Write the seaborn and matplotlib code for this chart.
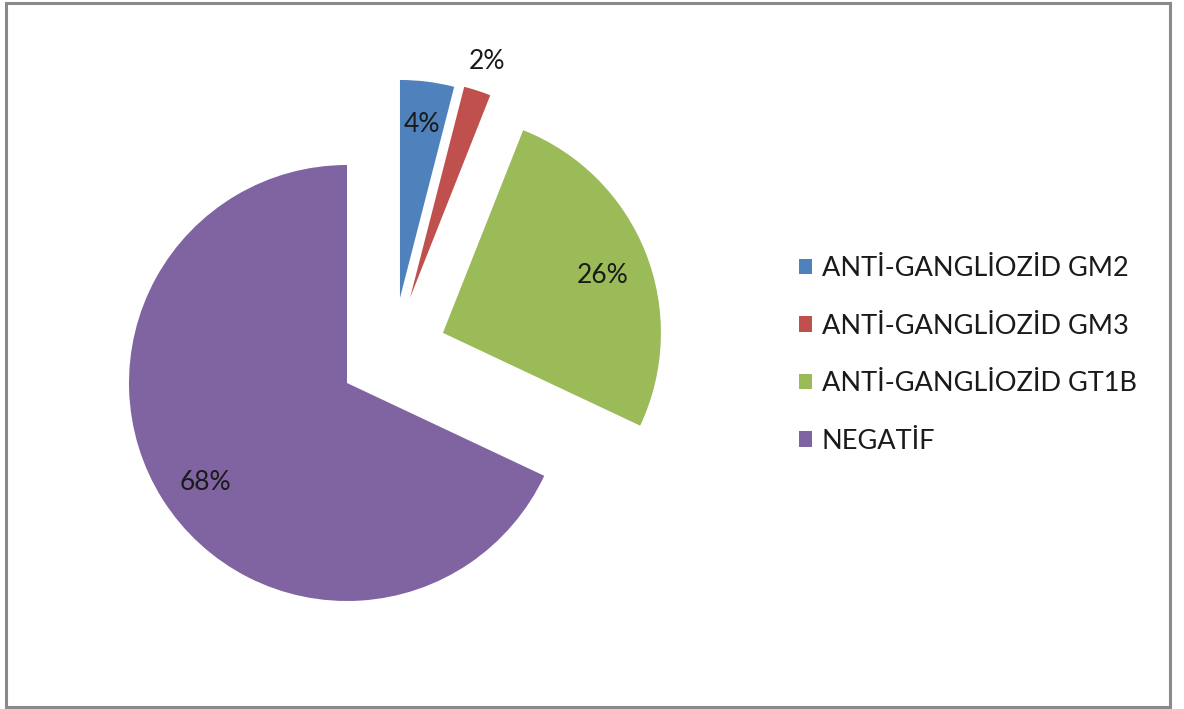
import numpy as np
import matplotlib
matplotlib.use("Agg")
import matplotlib.pyplot as plt
from matplotlib.patches import Rectangle
import seaborn as sns

categories = ["ANTİ-GANGLİOZİD GM2", "ANTİ-GANGLİOZİD GM3",
              "ANTİ-GANGLİOZİD GT1B", "NEGATİF"]
values = [4, 2, 26, 68]
colors = ["#4F81BD", "#C0504D", "#9BBB59", "#8064A2"]

sns.set_theme(style="white")
plt.rcParams["font.family"] = ["Lato", "DejaVu Sans"]
palette = sns.color_palette(colors)

W, H = 1184, 709
fig = plt.figure(figsize=(W / 100, H / 100), dpi=100)
fig.patch.set_facecolor("white")

# pie centre (347,383) px, radius 218 px
cx, cy, R = 347, 383, 218
left, right, top, bottom = 20, 760, 20, 690
ax = fig.add_axes([left / W, (H - bottom) / H, (right - left) / W, (bottom - top) / H])

wedges, texts, autotexts = ax.pie(
    values, colors=palette, startangle=90, counterclock=False, radius=1,
    autopct="%1.0f%%", pctdistance=0.8, frame=True,
    wedgeprops=dict(linewidth=0),
    textprops=dict(fontsize=19, color="#1a1a1a"))
ax.set_xlim((left - cx) / R, (right - cx) / R)
ax.set_ylim((cy - bottom) / R, (cy - top) / R)
ax.set_aspect("auto")
ax.axis("off")

# Excel-style explosion offsets (in radius units)
shifts = [(0.243, 0.390), (0.289, 0.390), (0.440, 0.230), (0.0, 0.0)]
for w, t, (dx, dy) in zip(wedges, autotexts, shifts):
    w.set_center((dx, dy))
    x, y = t.get_position()
    t.set_position((x + dx, y + dy))

# small red slice label placed outside
w = wedges[1]
mid = np.deg2rad((w.theta1 + w.theta2) / 2)
autotexts[1].set_position((shifts[1][0] + 1.14 * np.cos(mid),
                           shifts[1][1] + 1.14 * np.sin(mid)))
# fine placement of remaining labels
autotexts[3].set_position(np.array(autotexts[3].get_position()) + np.array([0.025, -0.03]))
autotexts[2].set_position(np.array(autotexts[2].get_position()) + np.array([-0.01, -0.03]))

leg = fig.legend(wedges, categories, loc="center left",
                 bbox_to_anchor=(785 / W, 1 - 355 / H),
                 bbox_transform=fig.transFigure, frameon=False,
                 fontsize=19.5, handlelength=0.5, handleheight=0.5,
                 handletextpad=0.35, labelspacing=1.2, borderpad=0)
for t in leg.get_texts():
    t.set_color("#1a1a1a")

fig.patches.append(Rectangle((6 / W, 2 / H), (1170 - 6) / W, (706 - 2) / H,
                             transform=fig.transFigure, fill=False,
                             edgecolor="#8a8a8a", linewidth=2.2))

fig.savefig("out.png", dpi=100)
